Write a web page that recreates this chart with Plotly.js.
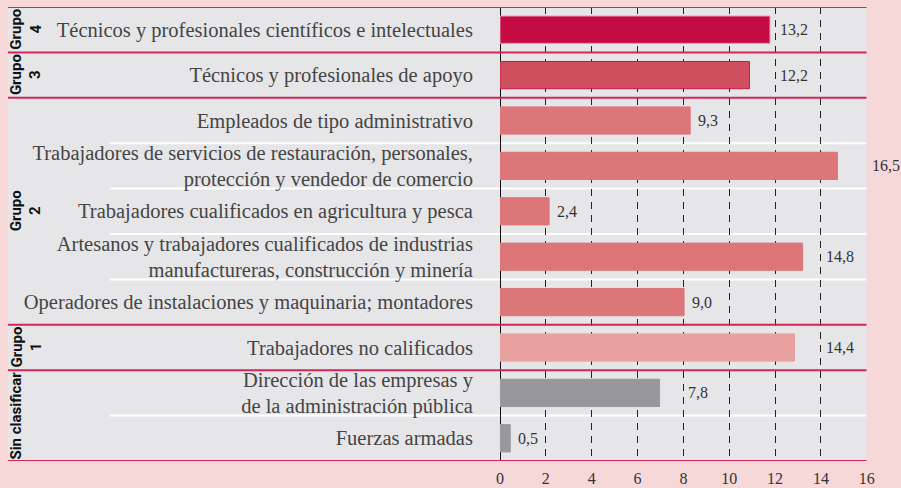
<!DOCTYPE html>
<html>
<head>
<meta charset="utf-8">
<script src="https://cdn.plot.ly/plotly-3.0.1.min.js"></script>
<style>
html,body{margin:0;padding:0;background:#f7d8d8;}
#chart{width:901px;height:488px;}
</style>
</head>
<body>
<div id="chart"></div>
<script>
// ---- data ----
const categories = [
  'Técnicos y profesionales científicos e intelectuales',
  'Técnicos y profesionales de apoyo',
  'Empleados de tipo administrativo',
  'Trabajadores de servicios de restauración, personales,<br>protección y vendedor de comercio',
  'Trabajadores cualificados en agricultura y pesca',
  'Artesanos y trabajadores cualificados de industrias<br>manufactureras, construcción y minería',
  'Operadores de instalaciones y maquinaria; montadores',
  'Trabajadores no calificados',
  'Dirección de las empresas y<br>de la administración pública',
  'Fuerzas armadas'
];
const values = [13.2, 12.2, 9.3, 16.5, 2.4, 14.8, 9.0, 14.4, 7.8, 0.5];
const groupNames = ['Grupo<br>4', 'Grupo<br>3', 'Grupo<br>2', 'Grupo<br>1', 'Sin clasificar'];
const groupOfRow = [0, 1, 2, 2, 2, 2, 2, 3, 4, 4];
const tickValues = [0, 2, 4, 6, 8, 10, 12, 14, 16];

// ---- style ----
const barColors = ['#c50b43', '#d04f5f', '#dc7679', '#dc7679', '#dc7679', '#dc7679', '#dc7679', '#e9a1a0', '#98989b', '#98989b'];
const barLines = ['#ec8fa6', '#c8174c', '#dc7679', '#dc7679', '#dc7679', '#dc7679', '#dc7679', '#e9a1a0', '#98989b', '#98989b'];
const AXIS_SCALE = 1.121;      // printed axis is stretched relative to bar values
const W = 901, H = 488;
const M = {l: 500, r: 34, t: 7, b: 27};
const plotW = W - M.l - M.r;
const RANGE_MAX = 16 * AXIS_SCALE + 0.01;
const pxPerUnit = plotW / RANGE_MAX;
const px2paper = px => (px - M.l) / plotW;
const SERIF = 'Liberation Serif';
const COND = 'Roboto';

const gridPos = tickValues.map(t => t * AXIS_SCALE);
const labelText = values.map(v => v.toFixed(1).replace('.', ','));

// data labels: just right of the bar, jumped past a dashed line if they would overlap it
const labelAnn = values.map((v, i) => {
  const endPx = v * pxPerUnit;
  let startPx = endPx + 6;
  const wPx = labelText[i].length * 7;
  for (const g of gridPos) {
    const gPx = g * pxPerUnit;
    if (gPx > endPx + 1 && gPx < startPx + wPx) { startPx = gPx + 3; }
  }
  return {
    x: startPx / plotW, y: i, xref: 'paper', yref: 'y',
    text: labelText[i], showarrow: false, xanchor: 'left', yanchor: 'middle',
    font: {family: SERIF, size: 16, color: '#333333'}
  };
});

// group labels
const groupAnn = groupNames.map((g, gi) => {
  const rows = groupOfRow.map((gg, i) => gg === gi ? i : null).filter(r => r !== null);
  const yc = (rows[0] + rows[rows.length - 1]) / 2;
  const twoLine = g.indexOf('<br>') >= 0;
  return {
    x: px2paper(twoLine ? 26 : 16), y: yc, xref: 'paper', yref: 'y',
    text: '<b>' + g + '</b>', textangle: -90, showarrow: false,
    xanchor: 'center', yanchor: 'middle',
    font: {family: COND, size: 15, color: '#111111'}
  };
});

// separators
const shapes = [];
shapes.push({type: 'rect', xref: 'paper', yref: 'paper', x0: px2paper(8), x1: px2paper(866.5), y0: 0, y1: 1,
  fillcolor: '#e6e6e8', line: {width: 0}, layer: 'below'});
for (let i = 0; i <= categories.length; i++) {
  const yb = i - 0.5;
  const prevG = i > 0 ? groupOfRow[i - 1] : -1;
  const nextG = i < categories.length ? groupOfRow[i] : -2;
  if (prevG === nextG) {
    shapes.push({type: 'line', xref: 'paper', yref: 'y', x0: px2paper(110), x1: px2paper(866.5), y0: yb, y1: yb,
      line: {color: '#ffffff', width: 2}, layer: 'below'});
  }
}
for (let i = 0; i <= categories.length; i++) {
  const yb = i - 0.5;
  const prevG = i > 0 ? groupOfRow[i - 1] : -1;
  const nextG = i < categories.length ? groupOfRow[i] : -2;
  if (prevG !== nextG) {
    shapes.push({type: 'line', xref: 'paper', yref: 'y', x0: px2paper(8), x1: px2paper(866.5), y0: yb, y1: yb,
      line: {color: '#d4245a', width: 2}, layer: 'above'});
  }
}

const trace = {
  type: 'bar', orientation: 'h',
  x: values, y: categories.map((c, i) => i),
  width: 0.6,
  marker: {color: barColors, line: {color: barLines, width: 1}},
  hoverinfo: 'none'
};

const layout = {
  width: W, height: H,
  margin: M,
  paper_bgcolor: '#f7d8d8',
  plot_bgcolor: 'rgba(0,0,0,0)',
  showlegend: false,
  bargap: 0.4,
  xaxis: {
    range: [0, RANGE_MAX],
    tickmode: 'array', tickvals: gridPos, ticktext: tickValues.map(String),
    showgrid: true, gridcolor: '#222222', gridwidth: 1, griddash: '7px,6px',
    zeroline: true, zerolinecolor: '#111111', zerolinewidth: 1,
    showline: false,
    ticks: 'outside', ticklen: 3, tickcolor: 'rgba(0,0,0,0)',
    tickfont: {family: SERIF, size: 16, color: '#333333'},
    fixedrange: true
  },
  yaxis: {
    range: [categories.length - 0.5, -0.5],
    tickmode: 'array', tickvals: categories.map((c, i) => i), ticktext: categories,
    showgrid: false, zeroline: false, showline: false,
    ticks: 'outside', ticklen: 22, tickcolor: 'rgba(0,0,0,0)',
    tickfont: {family: SERIF, size: 20.5, color: '#444444'},
    fixedrange: true
  },
  shapes: shapes,
  annotations: labelAnn.concat(groupAnn)
};

Plotly.newPlot('chart', [trace], layout, {displayModeBar: false, staticPlot: true});
</script>
</body>
</html>
